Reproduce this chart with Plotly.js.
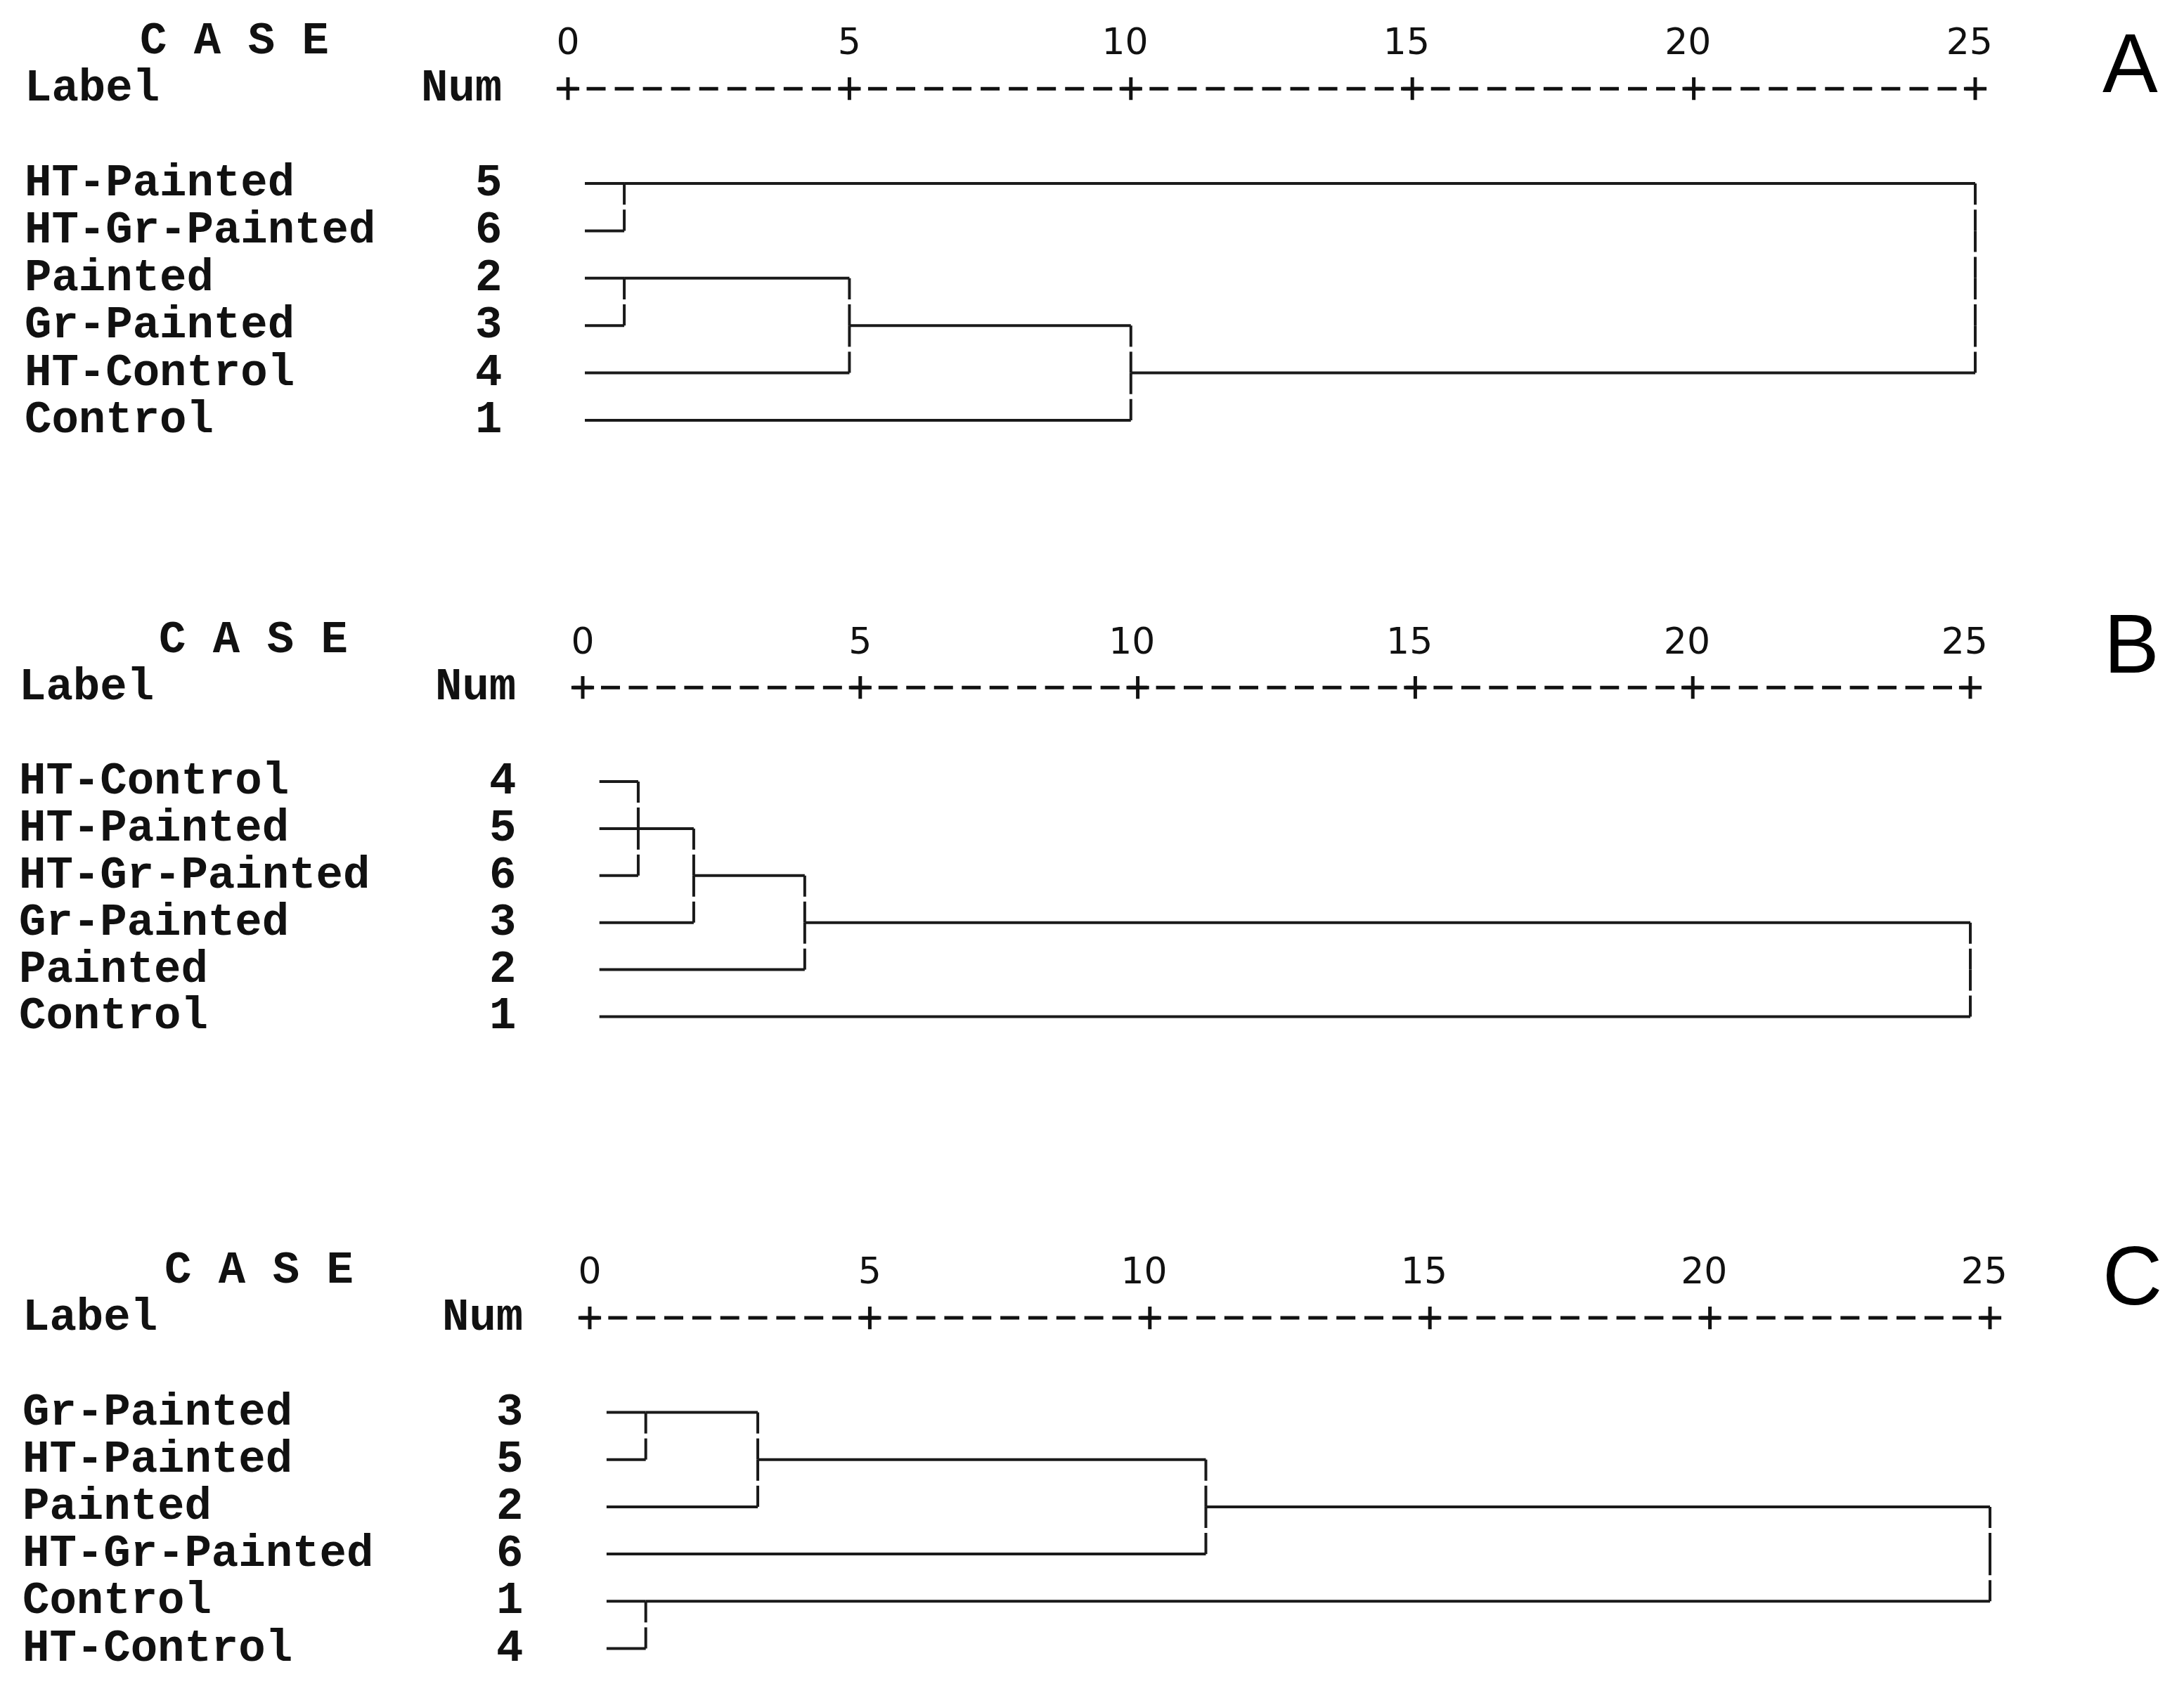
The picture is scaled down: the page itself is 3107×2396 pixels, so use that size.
<!DOCTYPE html>
<html>
<head>
<meta charset="utf-8">
<script src="https://cdn.plot.ly/plotly-3.0.1.min.js"></script>
<style>html,body{margin:0;padding:0;background:#fff;}</style>
</head>
<body>
<div id="chart" style="width:3107px;height:2396px;"></div>
<script>
// ---------------- data ----------------
const caseNames = {1:'Control', 2:'Painted', 3:'Gr-Painted', 4:'HT-Control', 5:'HT-Painted', 6:'HT-Gr-Painted'};
const tickValues = [0, 5, 10, 15, 20, 25];
const tickLabels = ['0', '5', '10', '15', '20', '25'];
const panelLetters = ['A', 'B', 'C'];
const headerCase = 'C A S E';
const headerLabel = 'Label';
const headerNum = 'Num';

// case order (top to bottom) and agglomeration stages [case in cluster 1, case in cluster 2, rescaled distance]
const orderA = [5, 6, 2, 3, 4, 1];
const stagesA = [[5, 6, 1], [2, 3, 1], [2, 4, 5], [2, 1, 10], [5, 2, 25]];
const orderB = [4, 5, 6, 3, 2, 1];
const stagesB = [[4, 5, 1], [4, 6, 1], [4, 3, 2], [4, 2, 4], [4, 1, 25]];
const orderC = [3, 5, 2, 6, 1, 4];
const stagesC = [[3, 5, 1], [1, 4, 1], [3, 2, 3], [3, 6, 11], [3, 1, 25]];

// ---------------- layout geometry (pixels) ----------------
const W = 3107, H = 2396;
const geom = [
  {px0: 808, px25: 2810, py0: 261,    pitch: 67.4, labelX: 33, numRight: 716, caseX: 333, letterX: 3030, letterY: 90},
  {px0: 829, px25: 2803, py0: 1112,   pitch: 66.9, labelX: 25, numRight: 736, caseX: 360, letterX: 3032, letterY: 916},
  {px0: 839, px25: 2831, py0: 2009.5, pitch: 67.2, labelX: 30, numRight: 746, caseX: 368, letterX: 3033, letterY: 1815}
];
const LEAF_START = 0.3;
const LINE_COLOR = '#1a1a1a';
const TEXT_COLOR = '#111';
const MONO = {family: 'Liberation Mono, DejaVu Sans Mono, monospace', size: 64, color: TEXT_COLOR, weight: 'bold'};

const panels = [
  {order: orderA, stages: stagesA},
  {order: orderB, stages: stagesB},
  {order: orderC, stages: stagesC}
];

function buildTree(order, stages, gapRows) {
  const clusterOf = {};
  order.forEach((c, i) => { clusterOf[c] = {lineRow: i, xEnd: LEAF_START}; });
  const x = [], y = [];
  stages.forEach(([a, b, d]) => {
    const A = clusterOf[a], B = clusterOf[b];
    [A, B].forEach(C => {
      if (d > C.xEnd) { x.push(C.xEnd, d, null); y.push(C.lineRow, C.lineRow, null); }
    });
    const r0 = Math.min(A.lineRow, B.lineRow), r1 = Math.max(A.lineRow, B.lineRow);
    for (let r = r0; r < r1; r++) {
      x.push(d, d, null, d, d, null);
      y.push(r, r + 0.5 - gapRows, null, r + 0.5 + gapRows, r + 1, null);
    }
    const N = {lineRow: Math.floor((A.lineRow + B.lineRow) / 2), xEnd: d};
    Object.keys(clusterOf).forEach(k => { if (clusterOf[k] === A || clusterOf[k] === B) clusterOf[k] = N; });
  });
  return {x, y};
}

const traces = [];
const layout = {
  width: W, height: H,
  margin: {l: 0, r: 0, t: 0, b: 0},
  paper_bgcolor: '#fff', plot_bgcolor: 'rgba(0,0,0,0)',
  showlegend: false,
  annotations: []
};

panels.forEach((p, i) => {
  const g = geom[i];
  const sfx = i === 0 ? '' : String(i + 1);
  const xa = 'x' + sfx, ya = 'y' + sfx;
  const u = (g.px25 - g.px0) / 25;

  layout['xaxis' + sfx] = {
    domain: [(g.px0 - u) / W, (g.px25 + u) / W],
    range: [-1, 26],
    side: 'top', anchor: 'free',
    position: 1 - (g.py0 - 2.57 * g.pitch) / H,
    tickmode: 'array', tickvals: tickValues,
    ticktext: tickLabels.map(t => t.length > 1 ? t + '\u00a0' : t),
    tickfont: {family: 'DejaVu Sans, sans-serif', size: 52, color: TEXT_COLOR},
    ticks: '', showgrid: false, zeroline: false, showline: false, fixedrange: true
  };
  layout['yaxis' + sfx] = {
    domain: [1 - (g.py0 + 5.5 * g.pitch) / H, 1 - (g.py0 - 3.5 * g.pitch) / H],
    range: [5.5, -3.5], anchor: xa,
    showticklabels: false, showgrid: false, zeroline: false, showline: false, ticks: '', fixedrange: true
  };

  // dendrogram
  const tree = buildTree(p.order, p.stages, 3.5 / g.pitch);
  traces.push({x: tree.x, y: tree.y, xaxis: xa, yaxis: ya, mode: 'lines',
    line: {color: LINE_COLOR, width: 4}, hoverinfo: 'skip'});

  // dashed axis row "+---------+"
  traces.push({x: [tickValues[0] - 13.5 / u, tickValues[tickValues.length - 1]], y: [-2, -2],
    xaxis: xa, yaxis: ya, mode: 'lines',
    line: {color: TEXT_COLOR, width: 5, dash: '27px,' + (u / 2 - 27).toFixed(2) + 'px'}, hoverinfo: 'skip'});
  traces.push({x: tickValues, y: tickValues.map(() => -2), xaxis: xa, yaxis: ya, mode: 'markers',
    cliponaxis: false,
    marker: {symbol: 'cross-thin', size: 23, color: TEXT_COLOR, line: {color: TEXT_COLOR, width: 5}},
    hoverinfo: 'skip'});

  // header texts
  const ann = layout.annotations;
  ann.push({text: headerCase, xref: 'paper', x: g.caseX / W, yref: ya, y: -3, xanchor: 'center', yanchor: 'middle', showarrow: false, font: MONO});
  ann.push({text: headerLabel, xref: 'paper', x: g.labelX / W, yref: ya, y: -2, xanchor: 'left', yanchor: 'middle', showarrow: false, font: MONO});
  ann.push({text: headerNum, xref: 'paper', x: g.numRight / W, yref: ya, y: -2, xanchor: 'right', yanchor: 'middle', showarrow: false, font: MONO});
  p.order.forEach((c, r) => {
    ann.push({text: caseNames[c], xref: 'paper', x: g.labelX / W, yref: ya, y: r, xanchor: 'left', yanchor: 'middle', showarrow: false, font: MONO});
    ann.push({text: String(c), xref: 'paper', x: g.numRight / W, yref: ya, y: r, xanchor: 'right', yanchor: 'middle', showarrow: false, font: MONO});
  });
  ann.push({text: panelLetters[i], xref: 'paper', x: g.letterX / W, yref: 'paper', y: 1 - g.letterY / H,
    xanchor: 'center', yanchor: 'middle', showarrow: false,
    font: {family: 'Liberation Sans, Arial, sans-serif', size: 118, color: '#000'}});
});

Plotly.newPlot('chart', traces, layout, {staticPlot: true, displayModeBar: false});
</script>
</body>
</html>
